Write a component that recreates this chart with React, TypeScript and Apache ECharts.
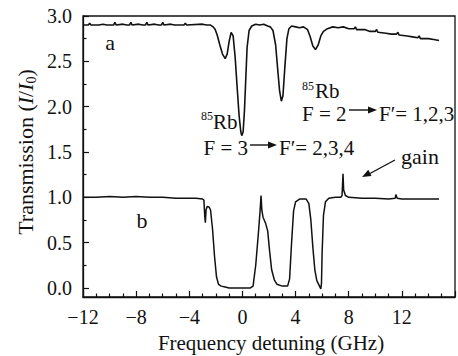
import React, { useEffect, useRef } from "react";
import * as echarts from "echarts";

// Curve a (upper trace): [detuning GHz, transmission]
const curveA: [number, number][] = [
  [-12, 2.90], [-11.6, 2.90], [-11.5, 2.92], [-11.4, 2.90], [-10.8, 2.90], [-10.5, 2.91],
  [-10.2, 2.90], [-9.7, 2.90], [-9.6, 2.93], [-9.5, 2.90], [-9.0, 2.91], [-8.7, 2.90],
  [-8.5, 2.90], [-8.4, 2.93], [-8.3, 2.90], [-7.8, 2.91], [-7.5, 2.90], [-7.3, 2.90],
  [-7.2, 2.93], [-7.1, 2.90], [-6.6, 2.91], [-6.3, 2.90], [-6.1, 2.90], [-6.0, 2.93],
  [-5.9, 2.90], [-5.4, 2.91], [-5.1, 2.90], [-4.4, 2.90], [-4.3, 2.92], [-4.2, 2.90],
  [-3.0, 2.91], [-2.7, 2.90], [-2.4, 2.90], [-2.2, 2.88], [-2.05, 2.85], [-1.9, 2.79],
  [-1.7, 2.68], [-1.5, 2.58], [-1.3, 2.53], [-1.15, 2.58], [-1.0, 2.72], [-0.85, 2.82],
  [-0.7, 2.78], [-0.55, 2.55], [-0.4, 2.22], [-0.25, 1.90], [-0.12, 1.72], [-0.05, 1.68],
  [0.05, 1.72], [0.15, 1.95], [0.25, 2.30], [0.35, 2.65], [0.5, 2.84], [0.7, 2.89],
  [1.0, 2.91], [1.3, 2.90], [1.6, 2.91], [1.9, 2.89], [2.1, 2.88], [2.3, 2.84],
  [2.5, 2.68], [2.65, 2.42], [2.8, 2.17], [2.93, 2.06], [3.05, 2.12], [3.2, 2.45],
  [3.35, 2.75], [3.5, 2.86], [3.7, 2.89], [4.0, 2.88], [4.3, 2.87], [4.6, 2.88],
  [4.9, 2.85], [5.1, 2.77], [5.3, 2.67], [5.5, 2.63], [5.7, 2.68], [5.9, 2.78],
  [6.1, 2.83], [6.4, 2.86], [6.8, 2.88], [7.2, 2.87], [7.6, 2.88], [8.0, 2.86],
  [8.4, 2.86], [8.5, 2.88], [8.6, 2.85], [9.2, 2.85], [9.6, 2.83], [10.0, 2.83],
  [10.1, 2.85], [10.2, 2.82], [10.8, 2.81], [11.2, 2.80], [11.6, 2.80], [11.7, 2.82],
  [11.8, 2.79], [12.4, 2.78], [12.8, 2.77], [13.2, 2.76], [13.3, 2.78], [13.4, 2.75],
  [14.0, 2.75], [14.4, 2.74], [14.8, 2.73],
];

// Curve b (lower trace)
const curveB: [number, number][] = [
  [-12, 1.00], [-11, 1.00], [-10, 1.01], [-9, 1.00], [-8, 1.01], [-7, 1.00],
  [-6, 1.00], [-5, 0.99], [-4, 0.99], [-3.5, 0.99], [-3.0, 0.98], [-2.9, 0.97],
  [-2.84, 0.80], [-2.79, 0.72], [-2.74, 0.86], [-2.65, 0.90], [-2.5, 0.89], [-2.4, 0.86],
  [-2.25, 0.65], [-2.1, 0.35], [-1.95, 0.12], [-1.8, 0.04], [-1.6, 0.02], [-1.3, 0.01],
  [-1.0, 0.00], [0.0, 0.00], [0.6, 0.00], [0.8, 0.02], [1.0, 0.25], [1.2, 0.60],
  [1.33, 0.85], [1.4, 1.02], [1.46, 0.86], [1.55, 0.78], [1.75, 0.71], [1.9, 0.63],
  [2.05, 0.40], [2.2, 0.20], [2.4, 0.09], [2.6, 0.04], [3.0, 0.02], [3.4, 0.02],
  [3.55, 0.10], [3.7, 0.50], [3.85, 0.85], [4.0, 0.95], [4.3, 0.98], [4.8, 0.98],
  [5.0, 0.93], [5.15, 0.75], [5.3, 0.45], [5.45, 0.20], [5.6, 0.08], [5.8, 0.02],
  [5.9, -0.01], [5.95, 0.05], [6.0, 0.40], [6.1, 0.80], [6.25, 0.95], [6.5, 0.99],
  [7.0, 1.00], [7.4, 1.00], [7.5, 1.02], [7.57, 1.26], [7.62, 1.08], [7.75, 1.02],
  [8.0, 1.00], [9.0, 0.99], [10.0, 0.99], [11.0, 0.98], [11.5, 0.99], [11.55, 1.03],
  [11.65, 0.99], [12.0, 0.98], [13.0, 0.98], [14.0, 0.98], [14.8, 0.98],
];

const xTickLabels = ["−12", "−8", "−4", "0", "4", "8", "12"];
const yTickLabels = ["0.0", "0.5", "1.0", "1.5", "2.0", "2.5", "3.0"];

const FONT = "'Liberation Serif', 'Times New Roman', serif";
const INK = "#111";

export default function App() {
  const ref = useRef<HTMLDivElement>(null);
  useEffect(() => {
    if (!ref.current) return;
    const chart = echarts.init(ref.current, null, { renderer: "svg" });
    const txt = (x: number, y: number, text: string, size: number, align = "left") => ({
      type: "text",
      x,
      y,
      silent: true,
      style: { text, fill: INK, fontFamily: FONT, fontSize: size, align, verticalAlign: "middle" },
    });
    const line = (x1: number, y1: number, x2: number, y2: number) => ({
      type: "line",
      silent: true,
      shape: { x1, y1, x2, y2 },
      style: { stroke: INK, lineWidth: 1.4 },
    });
    const head = (pts: number[][]) => ({
      type: "polygon",
      silent: true,
      shape: { points: pts },
      style: { fill: INK },
    });
    chart.setOption({
      animation: false,
      backgroundColor: "#fff",
      grid: [
        { left: 83, top: 16, right: -16, bottom: 59, show: true, borderColor: INK, borderWidth: 1.3, backgroundColor: "transparent" },
        { left: 83, top: 16, right: -16, bottom: 68.06 },
      ],
      xAxis: [
        {
          type: "value", gridIndex: 0, min: -12, max: 16, interval: 4,
          axisLine: { onZero: false, lineStyle: { color: INK, width: 1.3 } },
          axisTick: { inside: true, length: 6, lineStyle: { color: INK, width: 1.2 } },
          minorTick: { show: true, splitNumber: 4, length: 3.5, lineStyle: { color: INK, width: 1.2 } },
          splitLine: { show: false }, minorSplitLine: { show: false },
          axisLabel: {
            margin: 10, color: INK, fontFamily: FONT, fontSize: 20,
            formatter: (v: number) => xTickLabels[Math.round((v + 12) / 4)] ?? "",
          },
        },
        { type: "value", gridIndex: 1, min: -12, max: 16, show: false },
      ],
      yAxis: [
        {
          type: "value", gridIndex: 0, min: -0.1, max: 3.0,
          axisLine: { onZero: false, lineStyle: { color: INK, width: 1.3 } },
          axisTick: { show: false }, axisLabel: { show: false },
          splitLine: { show: false },
        },
        {
          type: "value", gridIndex: 1, min: 0, max: 3, interval: 0.5,
          axisLine: { show: false, onZero: false },
          axisTick: { show: true, inside: true, length: 6, lineStyle: { color: INK, width: 1.2 } },
          minorTick: { show: true, splitNumber: 2, length: 3.5, lineStyle: { color: INK, width: 1.2 } },
          splitLine: { show: false }, minorSplitLine: { show: false },
          axisLabel: {
            margin: 11, color: INK, fontFamily: FONT, fontSize: 20,
            formatter: (v: number) => yTickLabels[Math.round(v / 0.5)] ?? "",
          },
        },
      ],
      series: [
        {
          type: "line", xAxisIndex: 0, yAxisIndex: 0, data: curveA, showSymbol: false,
          lineStyle: { color: INK, width: 1.6 }, silent: true,
        },
        {
          type: "line", xAxisIndex: 0, yAxisIndex: 0, data: curveB, showSymbol: false,
          lineStyle: { color: INK, width: 1.5 }, silent: true,
        },
      ],
      graphic: [
        txt(271, 343, "Frequency detuning (GHz)", 21, "center"),
        {
          type: "text", x: 25, y: 152, rotation: Math.PI / 2, silent: true,
          style: {
            text: "Transmission ({it|I}/{it|I}{sub|0})",
            fill: INK, fontFamily: FONT, fontSize: 22, align: "center", verticalAlign: "middle",
            rich: {
              it: { fontFamily: FONT, fontSize: 22, fontStyle: "italic", fill: INK, lineHeight: 26 },
              sub: { fontFamily: FONT, fontSize: 14, fill: INK, verticalAlign: "bottom", lineHeight: 14 },
            },
          },
        },
        txt(110, 42, "a", 22, "center"),
        txt(142, 220, "b", 22, "center"),
        txt(201, 116, "85", 12),
        txt(213, 122, "Rb", 21),
        txt(302, 86, "85", 12),
        txt(315, 91, "Rb", 21),
        txt(302, 114, "F = 2", 21),
        line(349, 110, 371, 110),
        head([[377, 110], [368, 106.5], [368, 113.5]]),
        txt(379, 114, "F′= 1,2,3", 21),
        txt(248, 148, "F = 3", 21, "right"),
        line(250, 145, 271, 145),
        head([[277, 145], [268, 141.5], [268, 148.5]]),
        txt(279, 148, "F′= 2,3,4", 21),
        txt(401, 156, "gain", 22),
        line(395, 160, 369, 174),
        head([[362, 177], [371.5, 175.9], [368.3, 169.7]]),
      ],
    });
    return () => chart.dispose();
  }, []);
  return (
    <div
      ref={ref}
      style={{ position: "absolute", left: 0, top: 0, width: 458, height: 356, overflow: "hidden", background: "#fff" }}
    />
  );
}
